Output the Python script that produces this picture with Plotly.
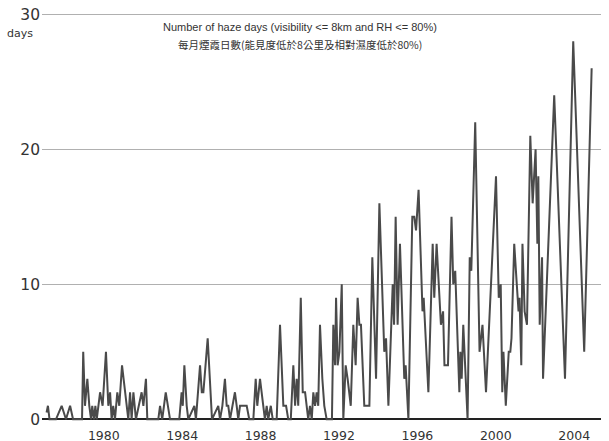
import plotly.graph_objects as go

# decimal year of each observation and number of haze days
years = [
    1977.08, 1977.15, 1977.23, 1977.56, 1977.85, 1978.07, 1978.28, 1978.43, 1978.89, 1978.95,
    1979.04, 1979.16, 1979.26, 1979.35, 1979.41, 1979.50, 1979.57, 1979.64, 1979.81, 1979.94,
    1980.11, 1980.23, 1980.32, 1980.40, 1980.48, 1980.57, 1980.69, 1980.79, 1980.93, 1981.08,
    1981.25, 1981.34, 1981.42, 1981.51, 1981.64, 1981.93, 1982.02, 1982.15, 1982.22, 1982.78,
    1982.87, 1982.98, 1983.16, 1983.38, 1983.85, 1983.97, 1984.03, 1984.11, 1984.23, 1984.31,
    1984.62, 1984.70, 1984.91, 1985.00, 1985.08, 1985.30, 1985.52, 1985.84, 1985.93, 1986.05,
    1986.18, 1986.27, 1986.35, 1986.44, 1986.69, 1986.78, 1986.86, 1986.95, 1987.29, 1987.42,
    1987.63, 1987.75, 1987.83, 1987.97, 1988.14, 1988.22, 1988.31, 1988.39, 1988.52, 1988.62,
    1988.82, 1988.99, 1989.16, 1989.30, 1989.41, 1989.54, 1989.67, 1989.76, 1989.84, 1989.92,
    1990.05, 1990.15, 1990.27, 1990.35, 1990.43, 1990.52, 1990.61, 1990.69, 1990.78, 1990.86,
    1990.94, 1991.03, 1991.15, 1991.25, 1991.37, 1991.64, 1991.71, 1991.80, 1991.85, 1991.93,
    1992.02, 1992.14, 1992.22, 1992.34, 1992.44, 1992.60, 1992.73, 1992.85, 1992.95, 1993.04,
    1993.12, 1993.29, 1993.55, 1993.70, 1993.89, 1994.06, 1994.31, 1994.40, 1994.52, 1994.74,
    1994.81, 1994.89, 1994.99, 1995.11, 1995.25, 1995.33, 1995.40, 1995.54, 1995.74, 1995.84,
    1995.93, 1996.06, 1996.26, 1996.32, 1996.56, 1996.78, 1996.86, 1996.98, 1997.20, 1997.31,
    1997.38, 1997.56, 1997.74, 1997.83, 1997.93, 1998.14, 1998.19, 1998.26, 1998.34, 1998.56,
    1998.67, 1998.75, 1998.95, 1999.17, 1999.32, 1999.50, 2000.01, 2000.15, 2000.25, 2000.33,
    2000.39, 2000.51, 2000.66, 2000.74, 2000.80, 2000.94, 2001.07, 2001.16, 2001.21, 2001.30,
    2001.36, 2001.47, 2001.59, 2001.76, 2001.88, 2002.03, 2002.12, 2002.17, 2002.24, 2002.36,
    2002.41, 2002.98, 2003.53, 2003.95, 2004.51, 2004.89,
]
haze_days = [
    0.5, 1, 0, 0, 1, 0, 1, 0, 0, 5,
    1, 3, 1, 0, 1, 0, 1, 0, 2, 1,
    5, 1, 2, 0, 1, 0, 2, 1, 4, 2,
    0, 2, 0, 2, 0, 2, 1, 3, 0, 0,
    1, 0, 2, 0, 0, 2, 1, 4, 1, 0,
    1, 0, 4, 2, 2, 6, 0, 1, 0, 1,
    3, 1, 1, 0, 2, 1, 0, 1, 1, 0,
    0, 3, 1, 3, 1, 0, 1, 0, 1, 0,
    0, 7, 1, 1, 0, 0, 4, 1, 3, 1,
    9, 2, 2, 1, 0, 1, 0, 2, 1, 2,
    1, 7, 3, 1, 0, 0, 7, 4, 9, 4,
    5, 10, 0, 4, 3, 1, 7, 4, 9, 7,
    7, 1, 1, 12, 3, 16, 5, 6, 1, 10,
    7, 15, 7, 13, 6, 3, 4, 0, 15, 15,
    14, 17, 8, 9, 2, 13, 9, 13, 7, 8,
    4, 4, 15, 10, 11, 2, 5, 3, 7, 0,
    12, 11, 22, 5, 7, 2, 18, 9, 10, 2,
    5, 1, 5, 5, 6, 13, 10, 8, 9, 4,
    13, 8, 7, 21, 16, 20, 13, 18, 7, 12,
    3, 24, 3, 28, 5, 26,
]

x_ticks = [1980, 1984, 1988, 1992, 1996, 2000, 2004]
y_ticks = [0, 10, 20, 30]

title_en = "Number of haze days (visibility <= 8km and RH <= 80%)"
title_zh = "每月煙霞日數(能見度低於8公里及相對濕度低於80%)"

fig = go.Figure()
fig.add_trace(go.Scatter(
    x=years, y=haze_days, mode="lines",
    line=dict(color="#4a4a4a", width=2),
    hoverinfo="skip", showlegend=False,
))

fig.update_layout(
    width=609, height=441,
    margin=dict(l=42, r=8, t=13, b=19),
    paper_bgcolor="white", plot_bgcolor="white",
    xaxis=dict(
        range=[1976.847, 2005.367], automargin=False,
        tickvals=x_ticks, ticktext=[str(v) for v in x_ticks],
        showgrid=False, zeroline=False, showline=False, ticks="",
        tickfont=dict(family="DejaVu Sans", size=12.5, color="#333"),
        ticklabelstandoff=4,
    ),
    yaxis=dict(
        range=[-0.2, 30.1], automargin=False,
        tickvals=y_ticks, ticktext=[str(v) for v in y_ticks],
        showgrid=True, gridcolor="#b0b0b0", gridwidth=1,
        zeroline=True, zerolinecolor="#222", zerolinewidth=1.5,
        showline=False, ticks="",
        tickfont=dict(family="DejaVu Sans", size=15.5, color="#333"),
        ticklabelstandoff=1,
    ),
    annotations=[
        dict(text="days", xref="paper", yref="paper", x=-0.0394, y=0.951,
             showarrow=False, xanchor="center", yanchor="middle",
             font=dict(family="DejaVu Sans", size=11, color="#333")),
        dict(text=title_en, xref="paper", yref="paper", x=0.4615, y=0.966,
             showarrow=False, xanchor="center", yanchor="middle",
             font=dict(family="Liberation Sans", size=11, color="#333")),
        dict(text=title_zh, xref="paper", yref="paper", x=0.4615, y=0.924,
             showarrow=False, xanchor="center", yanchor="middle",
             font=dict(family="Noto Sans CJK TC", size=10.5, color="#333")),
    ],
)

fig.write_html("out.html")
